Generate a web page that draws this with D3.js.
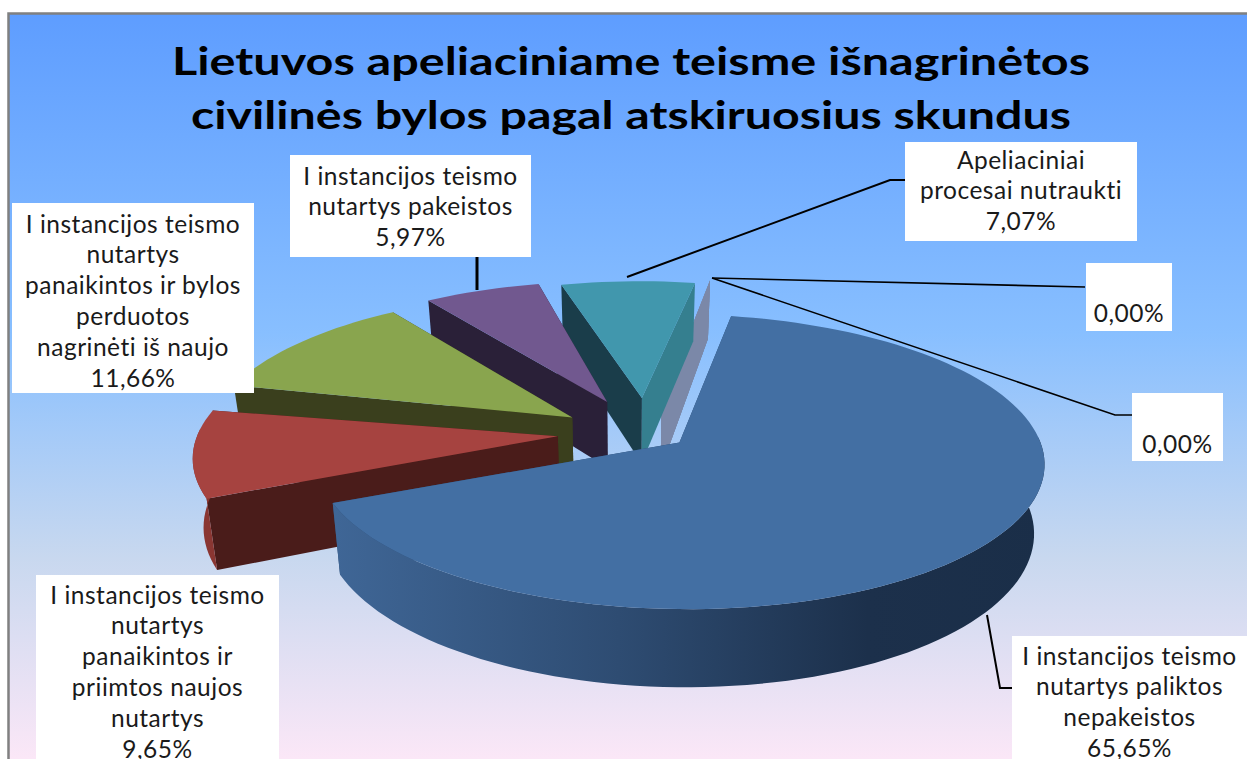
<!DOCTYPE html>
<html><head><meta charset="utf-8">
<script src="https://cdn.jsdelivr.net/npm/d3@7/dist/d3.min.js"></script>
<style>html,body{margin:0;padding:0;background:#fff}svg{display:block}</style>
</head><body><svg id="c" width="1247" height="759"></svg>
<script>
// ---------- data ----------
const titleLines = ["Lietuvos apeliaciniame teisme išnagrinėtos", "civilinės bylos pagal atskiruosius skundus"];
const categories = [
  "I instancijos teismo nutartys paliktos nepakeistos",
  "I instancijos teismo nutartys panaikintos ir priimtos naujos nutartys",
  "I instancijos teismo nutartys panaikintos ir bylos perduotos nagrinėti iš naujo",
  "I instancijos teismo nutartys pakeistos",
  "Apeliaciniai procesai nutraukti",
  "", ""
];
const values = [65.65, 9.65, 11.66, 5.97, 7.07, 0, 0];

// ---------- layout / style ----------
const W = 1247, H = 759;
const rad = Math.PI / 180;
const persp = 0.13, depth = 67, bottomX = 0.975;
const xS = d3.scaleLinear().domain([0, 1]).range([626, 989]);
const yS = d3.scaleLinear().domain([0, 1]).range([426, 282.4]);
const zeroStyle = {du: .10, dv: .16, dA: 0, r: 1.02, top: "#7b88a8", a: "#7b88a8", b: "#7b88a8", arc: "#7b88a8"};
const sliceStyles = [
  {du: .145, dv: -.114, dA: 1, r: .98, top: "#436fa3", a: "#2c4a70", b: "#2c4a70", arc: "url(#sideMain)"},
  {du: -.186, dv: -.07, dA: 0, r: .985, top: "#a64340", a: "#4a1c1a", b: "#4a1c1a", arc: "#8a3632"},
  {du: -.149, dv: .06, dA: 3, r: 1, top: "#89a54e", a: "#3a3f1d", b: "#3a3f1d", arc: "#5f7236"},
  {du: -.053, dv: .17, dA: 3, r: .99, top: "#71588f", a: "#2a2038", b: "#2a2038", arc: "#4a3a60"},
  {du: .045, dv: .2, dA: 1, r: .96, top: "#4197ad", a: "#1a3d4a", b: "#357f8f", arc: "#357f8f"},
  zeroStyle, zeroStyle
];
const labels = [
  {lines: ["I instancijos teismo", "nutartys paliktos", "nepakeistos", "65,65%"], box: [1012, 636, 235, 123], first: 656},
  {lines: ["I instancijos teismo", "nutartys", "panaikintos ir", "priimtos naujos", "nutartys", "9,65%"], box: [36, 575, 243, 184], first: 595},
  {lines: ["I instancijos teismo", "nutartys", "panaikintos ir bylos", "perduotos", "nagrinėti iš naujo", "11,66%"], box: [12, 203, 242, 190], first: 224},
  {lines: ["I instancijos teismo", "nutartys pakeistos", "5,97%"], box: [290, 155, 241, 102], first: 176},
  {lines: ["Apeliaciniai", "procesai nutraukti", "7,07%"], box: [905, 142, 232, 99], first: 160},
  {lines: ["0,00%"], box: [1086, 263, 86, 68], first: 313},
  {lines: ["0,00%"], box: [1132, 393, 91, 68], first: 444}
];
const leaders = [
  {pts: [[987, 615], [1000, 688], [1012, 688]], w: 2},
  null,
  null,
  {pts: [[477, 290], [477, 257]], w: 3},
  {pts: [[627, 277], [890, 180], [905, 180]], w: 2},
  {pts: [[712, 278], [1085, 287]], w: 1.6},
  {pts: [[712, 278], [1115, 415], [1132, 415]], w: 1.6}
];

// ---------- geometry ----------
function project(u, v, down) {
  const s = 1 / (1 + persp * v);
  let x = xS(u * s), y = yS(v * s);
  if (down) { x = xS(0) + (x - xS(0)) * bottomX; y += depth * s; }
  return [x, y];
}
const arcs = d3.pie().sort(null).value(d => d)
  .startAngle(9.4 * rad).endAngle(9.4 * rad + 2 * Math.PI)(values);

const svg = d3.select("#c");
const defs = svg.append("defs");
const bg = defs.append("linearGradient").attr("id", "bg").attr("x1", 0).attr("x2", 0).attr("y1", 0).attr("y2", 1);
[[0, "#5e9dff"], [.43, "#88bfff"], [.73, "#c8d8ef"], [1, "#fbe7f7"]].forEach(s =>
  bg.append("stop").attr("offset", s[0]).attr("stop-color", s[1]));
const sm = defs.append("linearGradient").attr("id", "sideMain").attr("gradientUnits", "userSpaceOnUse")
  .attr("x1", 335).attr("x2", 1045).attr("y1", 0).attr("y2", 0);
[[0, "#3f6696"], [.4, "#2e4c72"], [.75, "#1c304b"], [1, "#1a2e48"]].forEach(s =>
  sm.append("stop").attr("offset", s[0]).attr("stop-color", s[1]));

svg.append("rect").attr("x", 8).attr("y", 13).attr("width", W - 8).attr("height", H - 13).attr("fill", "url(#bg)");
svg.append("path").attr("d", `M8.5 ${H}V13.5H${W}`).attr("fill", "none").attr("stroke", "#808080").attr("stroke-width", 2.5);

const line = d3.line();
function sliceGeom(d, st) {
  const a0 = d.startAngle + st.dA * rad, a1 = d.endAngle + st.dA * rad;
  const n = Math.max(2, Math.ceil((a1 - a0) / (2 * rad)));
  const rim = d3.range(n + 1).map(i => {
    const a = a0 + (a1 - a0) * i / n;
    return {a, p: [st.du + st.r * Math.sin(a), st.dv + st.r * Math.cos(a)]};
  });
  return {apex: [st.du, st.dv], rim};
}
const pie = svg.append("g");
d3.range(arcs.length).reverse().forEach(i => {
  const d = arcs[i], st = sliceStyles[i], g = sliceGeom(d, st), G = pie.append("g");
  const P = (p, dn) => project(p[0], p[1], dn);
  const quad = (p, q) => line([P(p), P(q), P(q, true), P(p, true)]) + "Z";
  const first = g.rim[0].p, last = g.rim[g.rim.length - 1].p;
  G.append("path").attr("d", quad(g.apex, last)).attr("fill", st.b);
  G.append("path").attr("d", quad(g.apex, first)).attr("fill", st.a);
  if (d.value > 0) {
    // only the part of the outer wall that faces the viewer
    const front = g.rim.filter(r => Math.cos(r.a) < 0.05).map(r => r.p);
    if (front.length > 1) {
      const wall = front.map(p => P(p)).concat(front.slice().reverse().map(p => P(p, true)));
      G.append("path").attr("d", line(wall) + "Z").attr("fill", st.arc);
    }
    const top = [P(g.apex)].concat(g.rim.map(r => P(r.p)));
    G.append("path").attr("d", line(top) + "Z").attr("fill", st.top);
  }
});

// leaders
leaders.forEach(l => { if (l)
  svg.append("path").attr("d", line(l.pts)).attr("fill", "none").attr("stroke", "#000").attr("stroke-width", l.w);
});

// labels
const font = "Lato, 'Open Sans', sans-serif";
labels.forEach(l => {
  const [x, y, w, h] = l.box;
  svg.append("rect").attr("x", x).attr("y", y).attr("width", w).attr("height", h).attr("fill", "#fff");
  l.lines.forEach((t, j) => {
    svg.append("text").attr("x", x + w / 2).attr("y", l.first + j * 30.8)
      .attr("dy", "0.35em").attr("text-anchor", "middle").attr("font-family", font)
      .attr("font-size", 24.5).attr("letter-spacing", 0.5).attr("fill", "#1a1a1a").text(t);
  });
});

// title
const titleW = [918, 880], titleY = [75, 129];
titleLines.forEach((t, i) => {
  svg.append("text").attr("x", 631).attr("y", titleY[i]).attr("text-anchor", "middle")
    .attr("font-family", font).attr("font-weight", 700).attr("font-size", 39).attr("fill", "#000")
    .attr("textLength", titleW[i]).attr("lengthAdjust", "spacingAndGlyphs").text(t);
});
</script></body></html>
